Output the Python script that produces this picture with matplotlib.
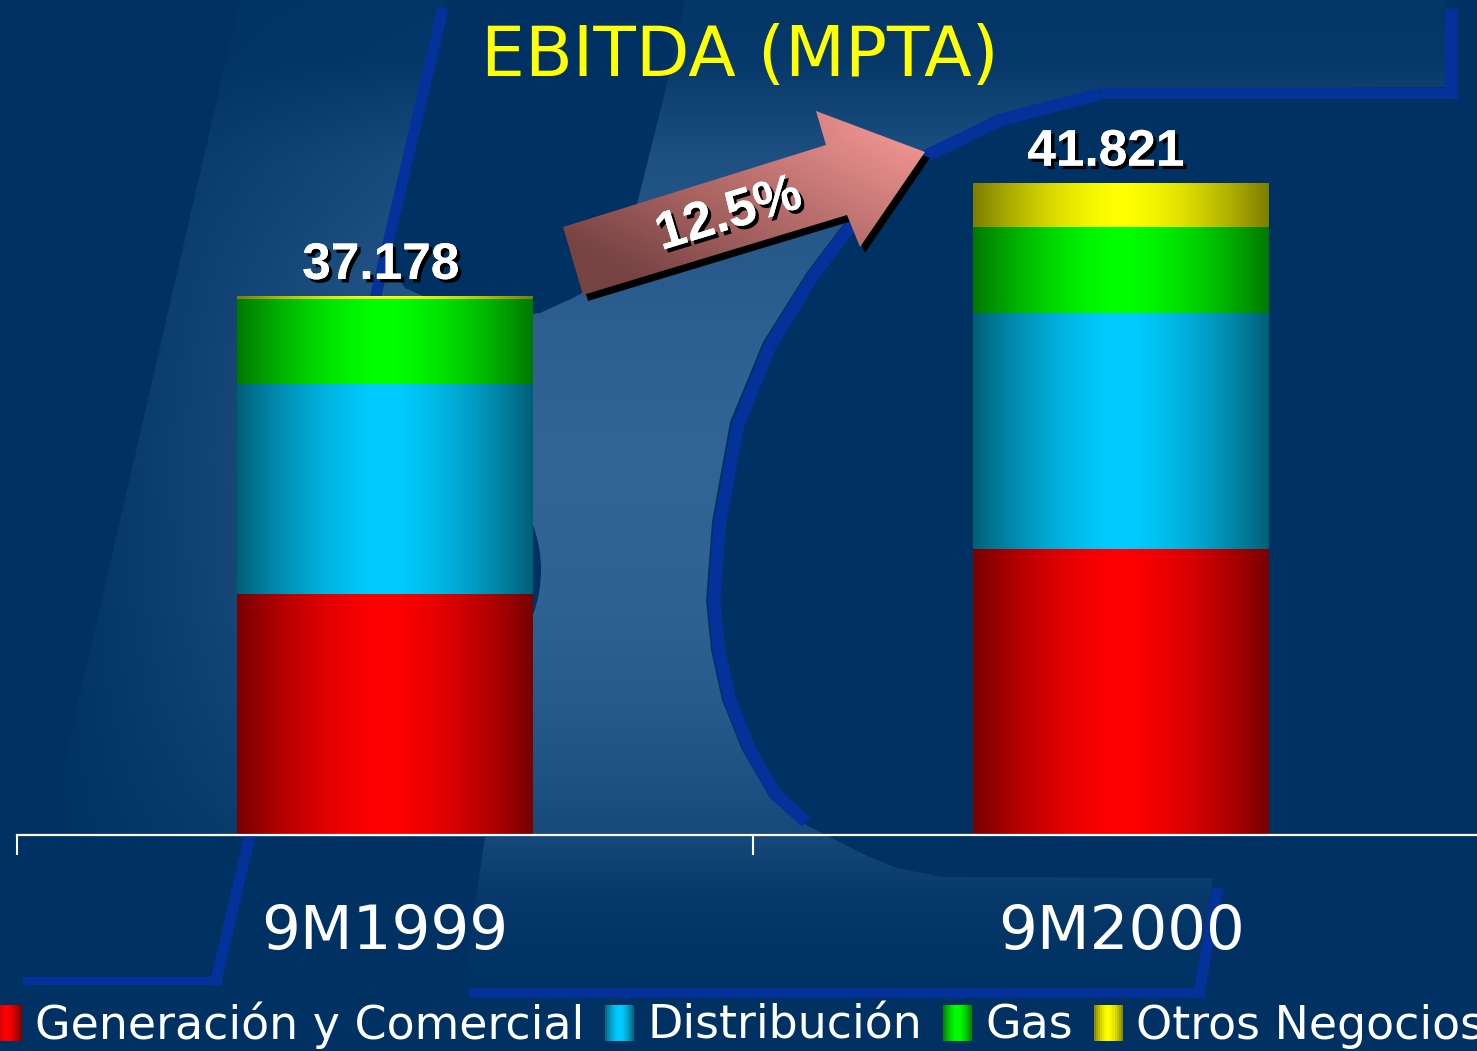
import numpy as np
import matplotlib
matplotlib.use("Agg")
import matplotlib.pyplot as plt
from matplotlib.patches import Polygon, Ellipse, Rectangle, Patch
from matplotlib.legend_handler import HandlerBase
import matplotlib.patheffects as pe

# ---------------- data ----------------
categories = ["9M1999", "9M2000"]
series_names = ["Generación y Comercial", "Distribución", "Gas", "Otros Negocios"]
generacion = [24978, 26821]
distribucion = [8620, 9680]
gas = [3470, 3520]
otros = [110, 1800]
growth_text = "12.5%"
title_text = "EBITDA (MPTA)"
axis_floor = 15090

series = [generacion, distribucion, gas, otros]
center_cols = [(255, 0, 0), (0, 204, 255), (0, 255, 0), (255, 255, 0)]
edge_cols = [(120, 0, 0), (0, 95, 120), (0, 120, 0), (125, 125, 0)]

W, H, DPI = 1477, 1051, 100
NAVY = np.array([0, 49, 99]) / 255
LIGHT = np.array([50, 100, 150]) / 255
STRIPE = "#04319a"


def cyl(u):
    return np.clip(1 - np.abs(2 * np.asarray(u) - 1) ** 1.6, 0, 1)


def cyl_rgb(edge, center, u):
    e = np.array(edge) / 255
    c = np.array(center) / 255
    g = cyl(u)[..., None]
    return e + (c - e) * g


shadow_fx = [pe.withSimplePatchShadow(offset=(2.5, -2.5), shadow_rgbFace="black", alpha=1.0), pe.Normal()]

fig = plt.figure(figsize=(W / DPI, H / DPI), dpi=DPI)
fig.patch.set_facecolor(NAVY)

# ---------------- background (decorative logo) ----------------
bg = fig.add_axes([0, 0, 1, 1], zorder=0)
bg.set_xlim(0, W)
bg.set_ylim(H, 0)
bg.axis("off")

yy, xx = np.mgrid[0:H, 0:W] + 0.5
th = np.clip((xx - 40) / 450, 0, 1)
tv_y = [0, 60, 100, 160, 260, 330, 450, 600, 700, 780, 835, 870, 900, 950, 1051]
tv_t = [0.10, 0.14, 0.33, 0.6, 0.8, 0.9, 1.0, 0.95, 0.8, 0.62, 0.46, 0.28, 0.14, 0.05, 0.0]
tv = np.interp(yy, tv_y, tv_t)
t = th * tv
img = NAVY + t[..., None] * (LIGHT - NAVY)

light_pts = [(240, 0), (1445, 0), (1445, 87), (1100, 90), (1000, 115), (920, 152), (860, 202),
             (807, 272), (763, 342), (730, 422), (712, 522), (706, 600), (711, 650), (722, 700),
             (742, 750), (770, 798), (806, 825), (865, 855), (897, 868), (943, 877), (1213, 878),
             (1200, 985), (463, 985), (485, 837), (47, 837)]
lp = Polygon(light_pts, closed=True, facecolor="none", edgecolor="none")
bg.add_patch(lp)
im = bg.imshow(img, extent=(0, W, H, 0), origin="upper", aspect="auto",
               interpolation="bilinear", zorder=1)
im.set_clip_path(lp)

hole_pts = [(448, 0), (685, 0), (672, 60), (663, 100), (648, 160), (638, 200), (623, 255),
            (600, 283), (573, 298), (540, 313), (495, 318), (445, 306), (405, 288), (388, 262)]
bg.add_patch(Polygon(hole_pts, closed=True, facecolor=NAVY, edgecolor="none", zorder=2))
bg.add_patch(Ellipse((440, 570), 202, 230, facecolor=NAVY, edgecolor="none", zorder=2))

# stripes of the logo outline
bg.plot([443, 215], [8, 985], color=STRIPE, lw=8, solid_capstyle="butt", zorder=3)
bg.plot([23, 222], [981, 981], color=STRIPE, lw=6, solid_capstyle="butt", zorder=3)
bg.plot([469, 1205], [993, 993], color=STRIPE, lw=7, solid_capstyle="butt", zorder=3)
bg.plot([1218, 1198], [888, 998], color=STRIPE, lw=8, solid_capstyle="butt", zorder=3)
bg.plot([1451, 1451], [8, 98], color=STRIPE, lw=9, solid_capstyle="butt", zorder=3)
bg.plot([1100, 1457], [93, 93], color=STRIPE, lw=8, solid_capstyle="butt", zorder=3)
arc = [(1100, 94), (1000, 120), (922, 158), (864, 208), (813, 276), (770, 346), (738, 425),
       (720, 522), (714, 600), (719, 650), (730, 700), (750, 750), (776, 795), (806, 822)]
bg.plot([p[0] for p in arc], [p[1] for p in arc], color=STRIPE, lw=9,
        solid_capstyle="butt", solid_joinstyle="round", zorder=3)

# growth arrow
arrow_pts = [(563, 227), (826, 145), (816, 111), (925, 152), (860, 247), (847, 215), (583, 295)]
bg.add_patch(Polygon([(px + 5, py + 6) for px, py in arrow_pts], closed=True,
                     facecolor="black", edgecolor="none", zorder=4))
ap = Polygon(arrow_pts, closed=True, facecolor="none", edgecolor="none", zorder=5)
bg.add_patch(ap)
ax0, ax1, ay0, ay1 = 550, 940, 100, 310
gy, gx = np.mgrid[ay0:ay1, ax0:ax1] + 0.5
ang = np.deg2rad(17.3)
along = ((gx - 563) * np.cos(ang) - (gy - 227) * np.sin(ang)) / 370
perp = ((gx - 563) * np.sin(ang) + (gy - 227) * np.cos(ang)) / 70
ta = np.clip(0.05 + 0.95 * along - 0.18 * np.clip(perp, 0, 1.6), 0, 1)
dark_a = np.array([118, 66, 66]) / 255
light_a = np.array([250, 155, 152]) / 255
aimg = dark_a + ta[..., None] * (light_a - dark_a)
aim = bg.imshow(aimg, extent=(ax0, ax1, ay1, ay0), origin="upper", aspect="auto",
                interpolation="bilinear", zorder=5)
aim.set_clip_path(ap)
bg.text(729, 215, growth_text, rotation=17, rotation_mode="anchor", ha="center", va="center",
        fontsize=38, fontweight="bold", family="Liberation Sans", color="white",
        path_effects=shadow_fx, zorder=6)
bg.set_xlim(0, W)
bg.set_ylim(H, 0)

# ---------------- main chart ----------------
ax = fig.add_axes([17 / W, (H - 835) / H, 1472 / W, (835 - 183) / H], zorder=2)
ax.patch.set_visible(False)
x = np.arange(len(categories))
bottom = np.zeros(len(categories))
bar_w = 0.402
for vals, ec, cc in zip(series, edge_cols, center_cols):
    bars = ax.bar(x, vals, bar_w, bottom=bottom, color=np.array(ec) / 255, linewidth=0, zorder=2)
    grad = cyl_rgb(ec, cc, np.linspace(0, 1, 300))[None, :, :]
    for p in bars.patches:
        bx, by = p.get_x(), p.get_y()
        top = by + p.get_height()
        y0 = max(by, axis_floor)
        if top > y0:
            ax.imshow(grad, extent=(bx, bx + p.get_width(), y0, top),
                      aspect="auto", interpolation="bilinear", zorder=3)
    bottom = bottom + np.array(vals)
totals = bottom

ax.set_xlim(-0.5, len(categories) - 0.5)
ax.set_ylim(axis_floor, totals.max())
for s in ["left", "right", "top"]:
    ax.spines[s].set_visible(False)
ax.spines["bottom"].set_color("white")
ax.spines["bottom"].set_linewidth(1.6)
ax.spines["bottom"].set_zorder(5)
ax.set_yticks([])
ax.set_xticks(x)
ax.set_xticklabels(categories, fontsize=44, color="white")
ax.tick_params(axis="x", which="major", length=0, pad=49)
ax.set_xticks(np.arange(len(categories) + 1) - 0.5, minor=True)
ax.tick_params(axis="x", which="minor", length=14.4, width=1.5, color="white", direction="out")

label_dx = [-3, -11]
for xi, tot, dx in zip(x, totals, label_dx):
    txt = f"{int(round(tot)):,}".replace(",", ".")
    ax.annotate(txt, xy=(xi, tot), xytext=(dx, 12.5), textcoords="offset points",
                ha="center", va="baseline", fontsize=37, fontweight="bold",
                family="Liberation Sans", color="white", path_effects=shadow_fx,
                annotation_clip=False, zorder=6)

fig.text(740 / W, 1 - 76 / H, title_text, ha="center", va="baseline", fontsize=50,
         color="#ffff00", zorder=5)


# ---------------- legend ----------------
class CylHandler(HandlerBase):
    def __init__(self, edge, center, n=14):
        super().__init__()
        self.edge = edge
        self.center = center
        self.n = n

    def create_artists(self, legend, orig_handle, xdescent, ydescent, width, height, fontsize, trans):
        cols = cyl_rgb(self.edge, self.center, (np.arange(self.n) + 0.5) / self.n)
        arts = []
        for i, c in enumerate(cols):
            arts.append(Rectangle((-xdescent + i * width / self.n, -ydescent), width / self.n + 0.4,
                                  height, facecolor=c, edgecolor="none", transform=trans))
        return arts


handles = [Patch(facecolor=np.array(c) / 255) for c in center_cols]
hmap = {h: CylHandler(e, c) for h, e, c in zip(handles, edge_cols, center_cols)}
fig.legend(handles, series_names, handler_map=hmap, loc="center",
           bbox_to_anchor=(0.5, 1 - 1025 / H), ncol=4, frameon=False, fontsize=33,
           handlelength=0.63, handleheight=0.83, handletextpad=0.3, columnspacing=0.45,
           borderpad=0, borderaxespad=0, labelcolor="white")

fig.savefig("out.png", dpi=DPI, facecolor=fig.get_facecolor())
